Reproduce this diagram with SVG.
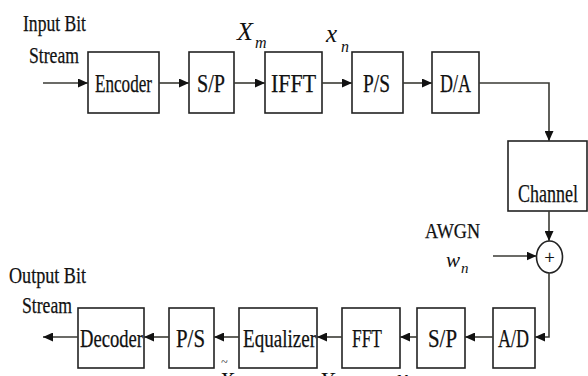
<svg xmlns="http://www.w3.org/2000/svg" width="588" height="376" viewBox="0 0 588 376">
<defs>
<marker id="arr" markerUnits="userSpaceOnUse" markerWidth="10" markerHeight="9" refX="10" refY="4.5" orient="auto">
<path d="M0,0 L10,4.5 L0,9 z" fill="#111"/>
</marker>
<style>
.box{fill:#fff;stroke:#222;stroke-width:1.6}
.t{font-family:"Liberation Serif","Times New Roman",serif;font-size:25px;fill:#111;stroke:#111;stroke-width:0.25}
.it{font-family:"Liberation Serif","Times New Roman",serif;font-style:italic;fill:#111}
.c{fill:none;stroke:#3a3a34;stroke-width:1.6}
.ca{fill:none;stroke:#3a3a34;stroke-width:1.6;marker-end:url(#arr)}
</style>
</defs>
<rect width="588" height="376" fill="#fff"/>

<g id="input-label">
<text class="t" x="23" y="31" textLength="63" lengthAdjust="spacingAndGlyphs" style="font-size:23px">Input Bit</text>
<text class="t" x="29" y="63" textLength="50" lengthAdjust="spacingAndGlyphs" style="font-size:23px">Stream</text>
</g>
<g id="encoder"><rect class="box" x="88" y="52" width="71" height="61"/><text class="t" x="95" y="92" textLength="57" lengthAdjust="spacingAndGlyphs">Encoder</text></g>
<g id="sp1"><rect class="box" x="189" y="52" width="45" height="61"/><text class="t" x="197" y="92" textLength="28" lengthAdjust="spacingAndGlyphs">S/P</text></g>
<g id="ifft"><rect class="box" x="265" y="52" width="57" height="61"/><text class="t" x="271" y="92" textLength="45" lengthAdjust="spacingAndGlyphs">IFFT</text></g>
<g id="ps1"><rect class="box" x="352" y="52" width="51" height="61"/><text class="t" x="363" y="92" textLength="27" lengthAdjust="spacingAndGlyphs">P/S</text></g>
<g id="da"><rect class="box" x="432" y="52" width="47" height="61"/><text class="t" x="440" y="92" textLength="31" lengthAdjust="spacingAndGlyphs">D/A</text></g>
<g id="xm-label"><text class="it" x="237" y="40" style="font-size:26px">X</text><text class="it" x="255" y="48" style="font-size:16px">m</text></g>
<g id="xn-label"><text class="it" x="326" y="42" style="font-size:25px">x</text><text class="it" x="341" y="52" style="font-size:16px">n</text></g>
<g id="channel"><rect class="box" x="508" y="141" width="79" height="70"/><text class="t" x="518" y="202" textLength="60" lengthAdjust="spacingAndGlyphs">Channel</text></g>
<g id="awgn-label">
<text class="t" x="425" y="238" textLength="55" lengthAdjust="spacingAndGlyphs" style="font-size:21px">AWGN</text>
<text class="it" x="446" y="267" style="font-size:21px">w</text><text class="it" x="461" y="273" style="font-size:15px">n</text>
</g>
<g id="adder"><ellipse cx="549.5" cy="257" rx="13" ry="16" fill="#fff" stroke="#222" stroke-width="1.6"/><text class="t" x="549.5" y="264" text-anchor="middle" style="font-size:18px">+</text></g>

<g id="ad"><rect class="box" x="493" y="308" width="42" height="60"/><text class="t" x="498" y="347" textLength="31" lengthAdjust="spacingAndGlyphs">A/D</text></g>
<g id="sp2"><rect class="box" x="417" y="308" width="48" height="60"/><text class="t" x="428" y="347" textLength="29" lengthAdjust="spacingAndGlyphs">S/P</text></g>
<g id="fft"><rect class="box" x="342" y="308" width="58" height="60"/><text class="t" x="352" y="347" textLength="30" lengthAdjust="spacingAndGlyphs">FFT</text></g>
<g id="equalizer"><rect class="box" x="239" y="308" width="78" height="60"/><text class="t" x="243" y="347" textLength="73" lengthAdjust="spacingAndGlyphs">Equalizer</text></g>
<g id="ps2"><rect class="box" x="169" y="308" width="45" height="60"/><text class="t" x="176" y="347" textLength="29" lengthAdjust="spacingAndGlyphs">P/S</text></g>
<g id="decoder"><rect class="box" x="78" y="308" width="66" height="60"/><text class="t" x="80" y="347" textLength="63" lengthAdjust="spacingAndGlyphs">Decoder</text></g>
<g id="output-label">
<text class="t" x="9" y="283" textLength="77" lengthAdjust="spacingAndGlyphs" style="font-size:23px">Output Bit</text>
<text class="t" x="22" y="313" textLength="50" lengthAdjust="spacingAndGlyphs" style="font-size:23px">Stream</text>
</g>
<g id="bottom-labels">
<text class="it" x="221" y="366" style="font-size:12px">~</text>
<text class="it" x="219" y="388" style="font-size:24px">X</text>
<text class="it" x="320" y="388" style="font-size:24px">Y</text>
<text class="it" x="397" y="386" style="font-size:24px">y</text>
</g>

<g id="connectors">
<line class="ca" x1="43" y1="83" x2="88" y2="83"/>
<line class="ca" x1="159" y1="83" x2="189" y2="83"/>
<line class="ca" x1="234" y1="83" x2="265" y2="83"/>
<line class="ca" x1="322" y1="83" x2="352" y2="83"/>
<line class="ca" x1="403" y1="83" x2="432" y2="83"/>
<path class="ca" d="M479,83 H549 V141"/>
<line class="ca" x1="549" y1="211" x2="549" y2="241"/>
<line class="ca" x1="493" y1="256" x2="536.5" y2="256"/>
<path class="ca" d="M549,273 V337 H535"/>
<line class="ca" x1="493" y1="337" x2="465" y2="337"/>
<line class="ca" x1="417" y1="337" x2="400" y2="337"/>
<line class="ca" x1="342" y1="337" x2="317" y2="337"/>
<line class="ca" x1="239" y1="337" x2="214" y2="337"/>
<line class="ca" x1="169" y1="337" x2="144" y2="337"/>
<line class="ca" x1="78" y1="337" x2="43" y2="337"/>
</g>
</svg>
